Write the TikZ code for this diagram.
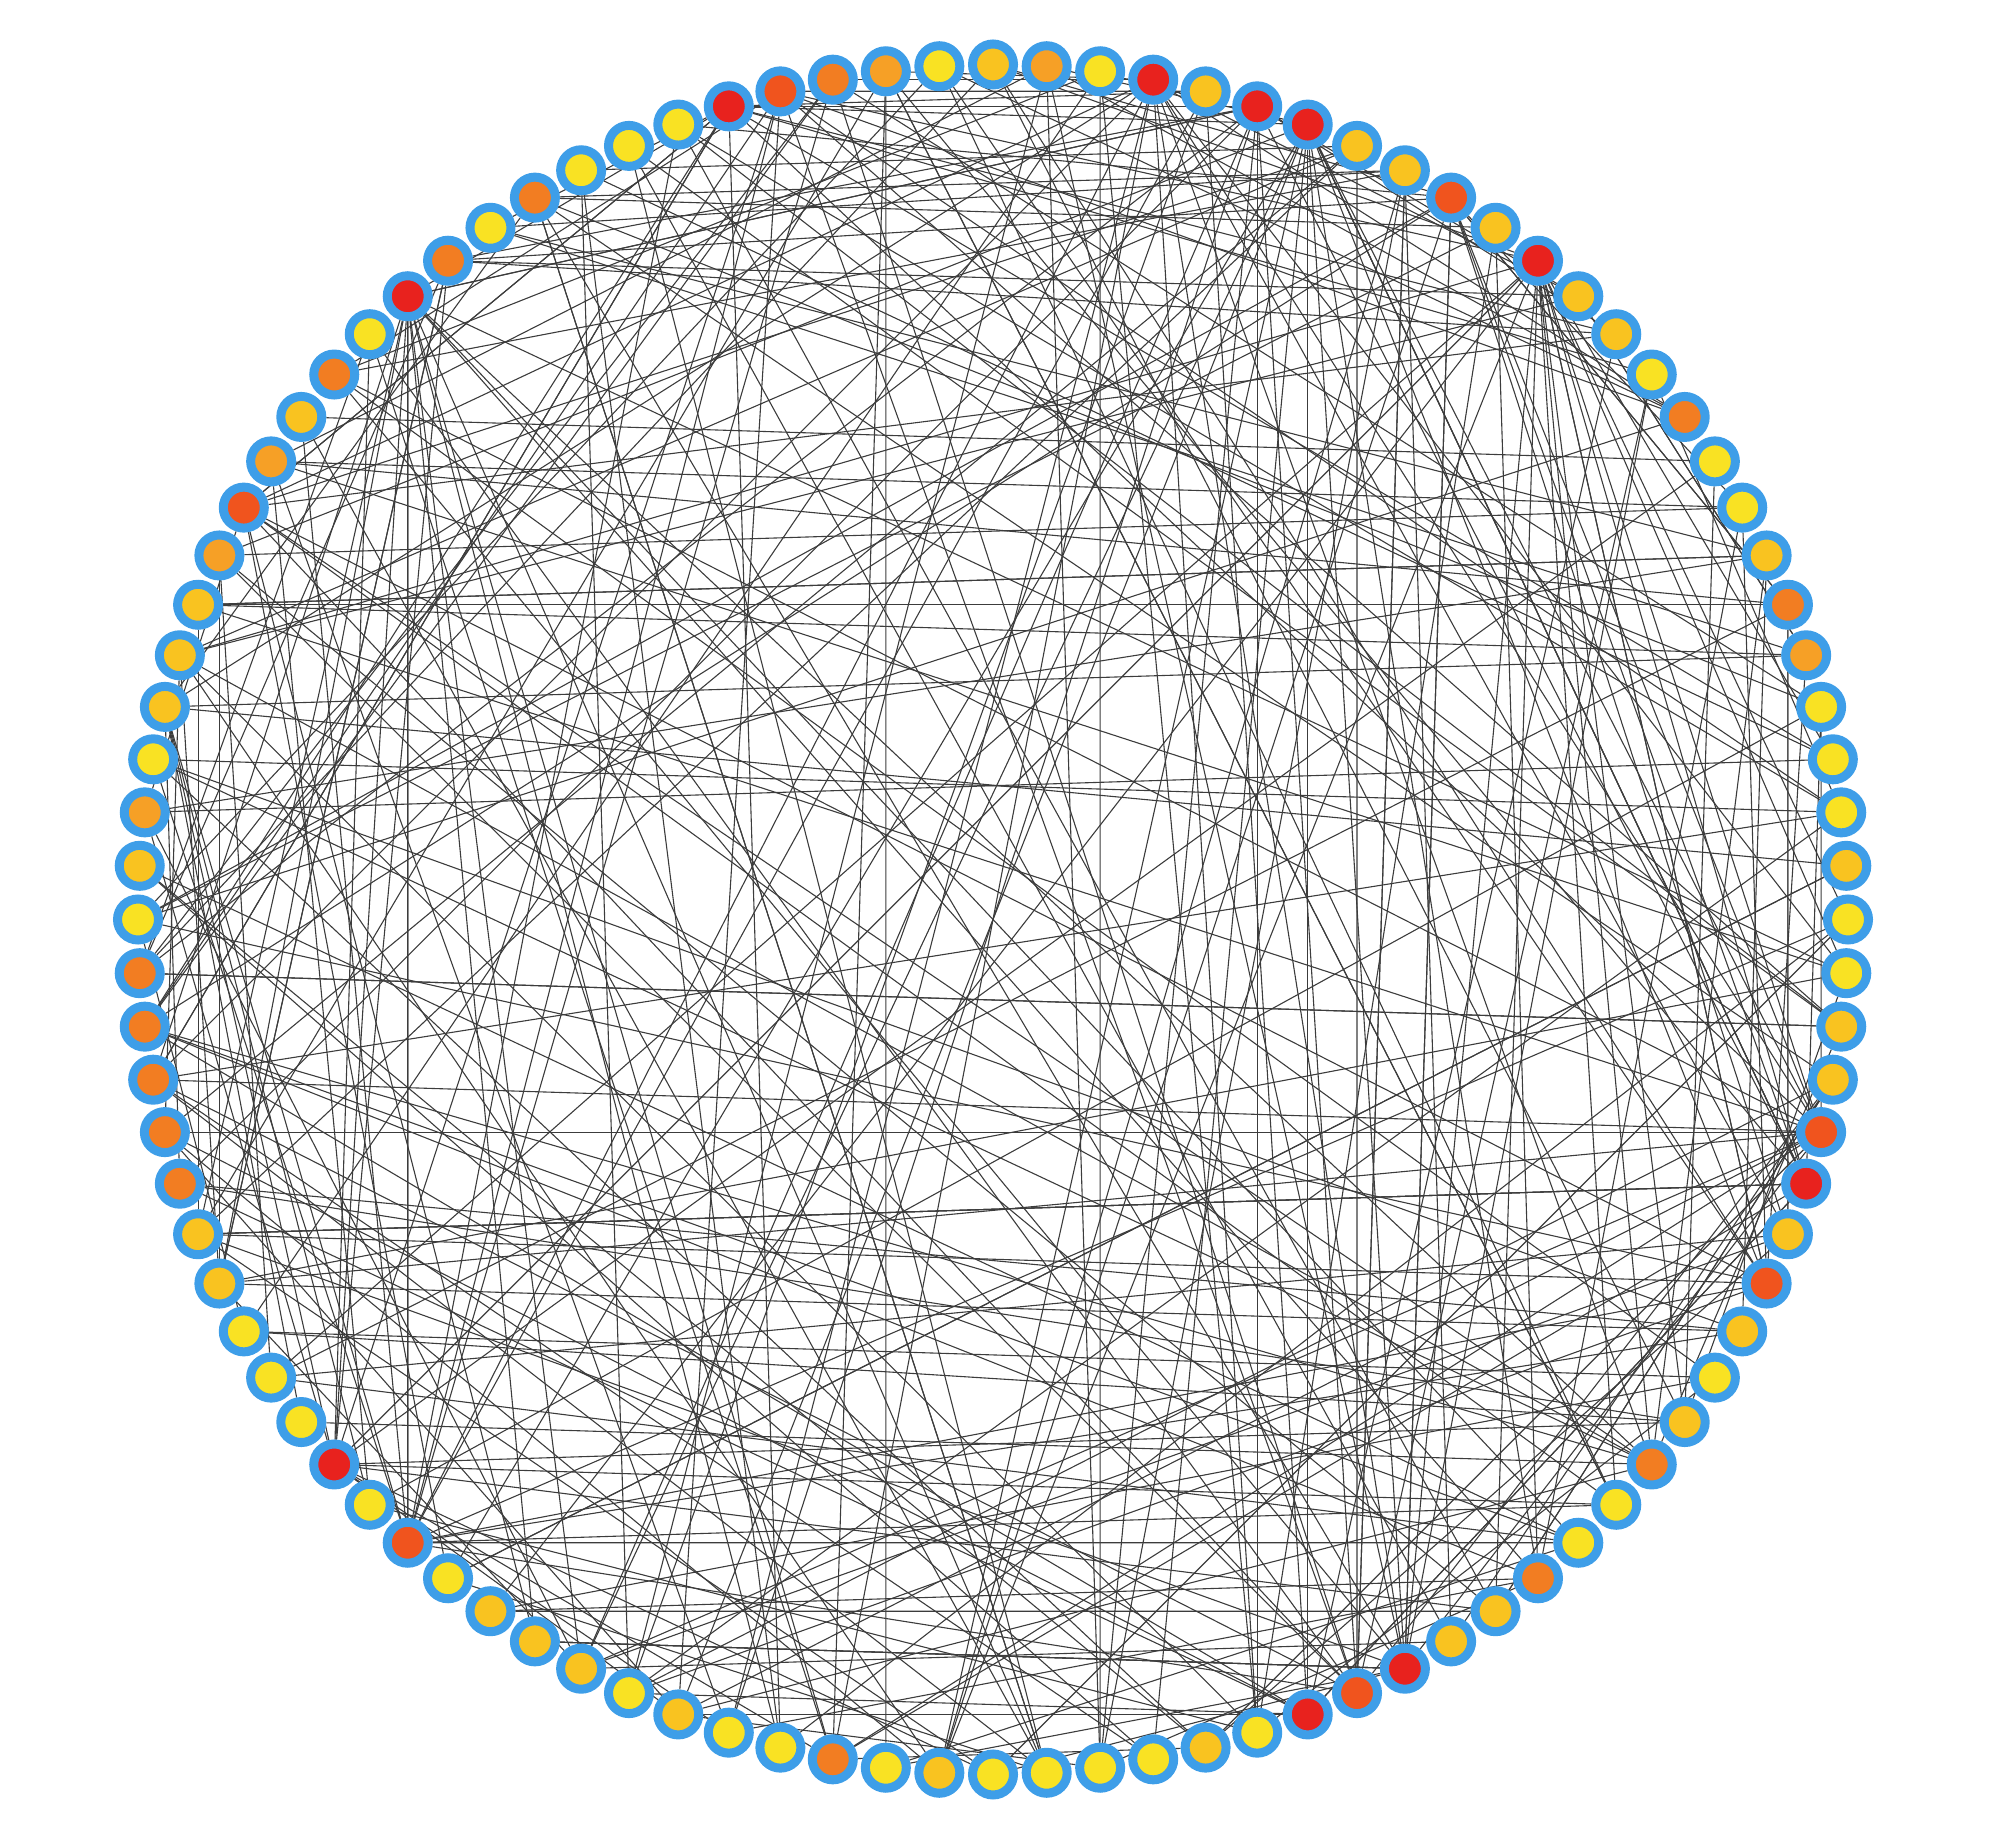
\documentclass[tikz,border=0pt]{standalone}
\usetikzlibrary{backgrounds}
\definecolor{ringblue}{RGB}{62,158,232}
\definecolor{cR}{RGB}{232,34,30}
\definecolor{cOR}{RGB}{240,84,30}
\definecolor{cO}{RGB}{242,125,34}
\definecolor{cLO}{RGB}{246,160,38}
\definecolor{cG}{RGB}{249,195,32}
\definecolor{cY}{RGB}{249,226,35}
\definecolor{edgegray}{RGB}{60,60,60}
\tikzset{
  gene/.style={circle, draw=ringblue, line width=4.5pt, minimum size=20.5pt, inner sep=0pt},
  link/.style={draw=edgegray, line width=0.55pt}
}
\newcommand{\genelist}{0/G/3, 1/LO/4, 2/Y/2, 3/R/7, 4/G/3, 5/R/7, 6/R/7, 7/G/3, 8/G/3, 9/OR/6,
 10/G/3, 11/R/7, 12/G/3, 13/G/3, 14/Y/2, 15/O/5, 16/Y/2, 17/Y/2, 18/G/3, 19/O/5,
 20/LO/4, 21/Y/2, 22/Y/2, 23/Y/2, 24/G/3, 25/Y/2, 26/Y/2, 27/G/3, 28/G/3, 29/OR/6,
 30/R/7, 31/G/3, 32/OR/6, 33/G/3, 34/Y/2, 35/G/3, 36/O/5, 37/Y/2, 38/Y/2, 39/O/5,
 40/G/3, 41/G/3, 42/R/7, 43/OR/6, 44/R/7, 45/Y/2, 46/G/3, 47/Y/2, 48/Y/2, 49/Y/2,
 50/Y/2, 51/G/3, 52/Y/2, 53/O/5, 54/Y/2, 55/Y/2, 56/G/3, 57/Y/2, 58/G/3, 59/G/3,
 60/G/3, 61/Y/2, 62/OR/6, 63/Y/2, 64/R/7, 65/Y/2, 66/Y/2, 67/Y/2, 68/G/3, 69/G/3,
 70/O/5, 71/O/5, 72/O/5, 73/O/5, 74/O/5, 75/Y/2, 76/G/3, 77/LO/4, 78/Y/2, 79/G/3,
 80/G/3, 81/G/3, 82/LO/4, 83/OR/6, 84/LO/4, 85/G/3, 86/O/5, 87/Y/2, 88/R/7, 89/O/5,
 90/Y/2, 91/O/5, 92/Y/2, 93/Y/2, 94/Y/2, 95/R/7, 96/OR/6, 97/O/5, 98/LO/4, 99/Y/2}
\begin{document}
\begin{tikzpicture}[x=0.5pt,y=-0.5pt]
\useasboundingbox (0,0) rectangle (2008,1823);
\foreach \k/\c/\d in \genelist {
  \pgfmathsetmacro\ang{90-3.6*\k}
  \node[gene, fill=c\c] (n\k) at ({993+855*cos(\ang)},{919.5-855*sin(\ang)}) {};
}
\pgfmathsetseed{12}
\begin{pgfonlayer}{background}
\foreach \k/\c/\d in \genelist {
  \foreach \j in {1,...,\d} {
    \pgfmathtruncatemacro\r{random(0,9)}
    \ifnum\r<3
      \pgfmathtruncatemacro\p{{3,5,6,11,30,42,44,64,88,95,9,29,32,43,62,83,96}[random(0,16)]}
    \else\ifnum\r=3
      \pgfmathtruncatemacro\p{mod(250-\k+random(0,2)-1,100)}
    \else\ifnum\r=4
      \pgfmathtruncatemacro\p{mod(300-\k+random(0,2)-1,100)}
    \else
      \pgfmathtruncatemacro\p{mod(\k+random(8,92),100)}
    \fi\fi\fi
    \pgfmathtruncatemacro\dd{mod(\p-\k+100,100)}
    \ifnum\dd<5 \pgfmathtruncatemacro\p{mod(\k+20+random(0,25),100)}\fi
    \ifnum\dd>95 \pgfmathtruncatemacro\p{mod(\k+55+random(0,25),100)}\fi
    \draw[link] (n\k) -- (n\p);
  }
}
\end{pgfonlayer}
\end{tikzpicture}
\end{document}
